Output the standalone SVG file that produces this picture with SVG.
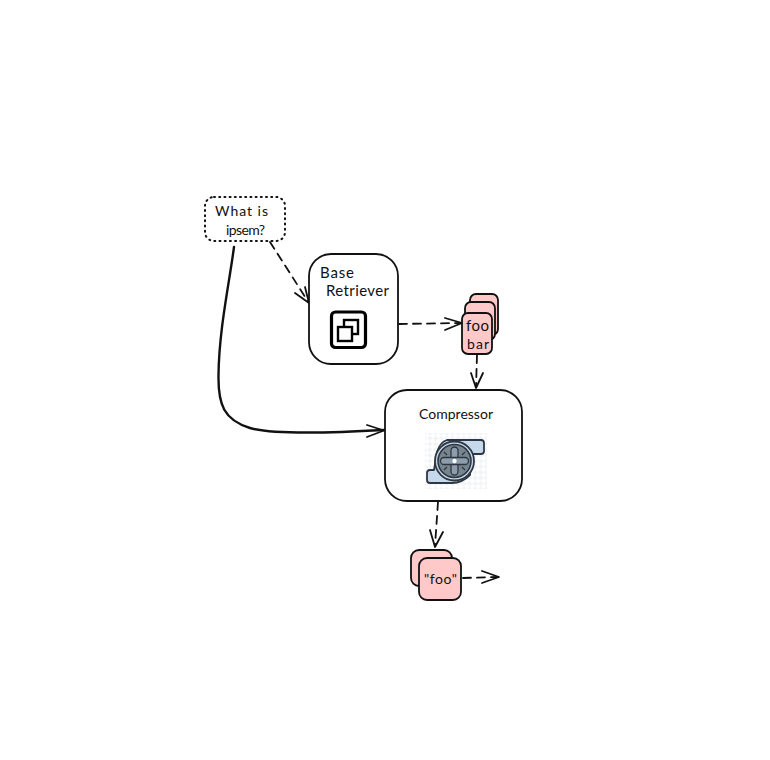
<svg xmlns="http://www.w3.org/2000/svg" width="770" height="760" viewBox="0 0 770 760">
<style>
.box{fill:#fff;stroke:#111;stroke-width:1.800}
.pink{fill:#ffc9c9;stroke:#111;stroke-width:1.800}
.t{font-family:"Lato","Liberation Sans",sans-serif;fill:#111;text-anchor:middle}
.ln{fill:none;stroke:#111;stroke-width:1.800;stroke-linecap:round;stroke-linejoin:round}
.dash{stroke-dasharray:8 6}
</style>
<defs>
<pattern id="hatch" width="8" height="8" patternUnits="userSpaceOnUse" patternTransform="rotate(45)">
<rect width="8" height="8" fill="#fff"/>
<rect width="4" height="4" fill="#f3f4f7"/>
<rect x="4" y="4" width="4" height="4" fill="#f3f4f7"/>
</pattern>
</defs>
<rect width="770" height="760" fill="#fff"/>
<g id="connectors">
<path class="ln dash" d="M270 242L309 303"/>
<path class="ln" d="M295 293L309 303L305 287"/>
<path class="ln" style="stroke-width:2.400" d="M234 247C229 285 219 330 218.500 375C218 405 224 420 250 428C270 434 330 433 384 430"/>
<path class="ln" d="M367 425L384 430.500L367 437"/>
<path class="ln dash" d="M399 324L461 323"/>
<path class="ln" d="M445 318L462 323L445 330"/>
<path class="ln dash" d="M477 355L476 387"/>
<path class="ln" d="M471 373L476 388L483 373"/>
<path class="ln dash" d="M438 502L435 546"/>
<path class="ln" d="M430 530L435 547L443 532"/>
<path class="ln dash" d="M463 578L498 577"/>
<path class="ln" d="M482 571L499 577L482 583"/>
</g>
<g id="query">
<rect x="205" y="197" width="80" height="44" rx="9" fill="#fff" stroke="#111" stroke-width="2" stroke-dasharray="1 4.200" stroke-linecap="round"/>
<text class="t" x="241.500" y="216" font-size="14" textLength="53">What is</text>
<text class="t" x="245.500" y="235" font-size="14" textLength="39">ipsem?</text>
</g>
<g id="retriever">
<rect class="box" x="309" y="254" width="89" height="110" rx="22"/>
<text class="t" x="337" y="278" font-size="15" textLength="34">Base</text>
<text class="t" x="357.500" y="296" font-size="15" textLength="63">Retriever</text>
<rect x="331.500" y="312" width="34" height="35.500" rx="4" fill="#fff" stroke="#000" stroke-width="3.200"/>
<rect x="344" y="320" width="14" height="14" fill="#fff" stroke="#000" stroke-width="2.400"/>
<rect x="338" y="327" width="14" height="14" fill="#fff" stroke="#000" stroke-width="2.400"/>
</g>
<g id="docs">
<rect class="pink" x="470" y="294" width="28" height="41" rx="6"/>
<rect class="pink" x="465" y="302" width="30" height="38" rx="6"/>
<rect class="pink" x="462" y="313" width="30" height="41" rx="6"/>
<text class="t" x="477.500" y="331" font-size="15" textLength="23">foo</text>
<text class="t" x="478" y="349" font-size="14" textLength="22">bar</text>
</g>
<g id="compressor">
<rect class="box" x="385" y="390" width="137" height="111" rx="22"/>
<text class="t" x="456" y="419" font-size="14" textLength="74">Compressor</text>
<rect x="425" y="433" width="62" height="56" fill="url(#hatch)"/>
<path d="M447 440H481Q484 440 484 443V451Q484 454 481 454H472L470 475Q462 483 452 483H430Q427 483 427 480V473Q427 470 430 470H434L437 452Q440 442 447 440Z" fill="#c5d8ec" stroke="#2f3842" stroke-width="1.800" stroke-linejoin="round"/>
<circle cx="454.500" cy="461" r="19.500" fill="#c5d8ec" stroke="#2f3842" stroke-width="1.800"/>
<circle cx="454.500" cy="461" r="16.500" fill="#77858f" stroke="#2f3842" stroke-width="1.600"/>
<path d="M444 452L447 455M465 452L462 455M444 470L447 467M465 470L462 467" fill="none" stroke="#2f3842" stroke-width="1.300"/>
<rect x="451" y="447" width="7" height="28" rx="3.500" fill="#8d9dab" stroke="#2f3842" stroke-width="1.300"/>
<rect x="440.500" y="457.500" width="28" height="7" rx="3.500" fill="#8d9dab" stroke="#2f3842" stroke-width="1.300"/>
<circle cx="454.500" cy="461" r="2.200" fill="#fff"/>
</g>
<g id="result">
<rect class="pink" x="411" y="550" width="41" height="36" rx="8"/>
<rect class="pink" x="419" y="558" width="42" height="42" rx="8"/>
<text class="t" x="440.500" y="584" font-size="14" textLength="33">"foo"</text>
</g>
</svg>
